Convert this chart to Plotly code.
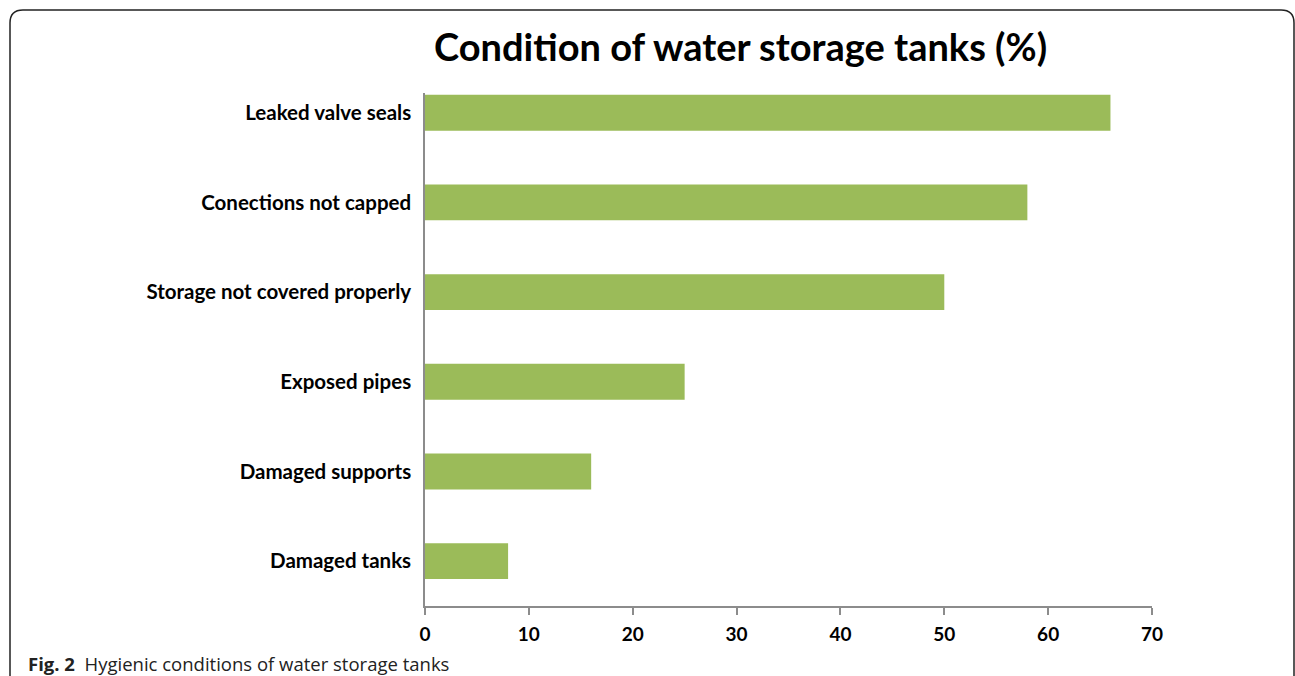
import plotly.graph_objects as go

categories = ["Damaged tanks", "Damaged supports", "Exposed pipes",
              "Storage not covered properly", "Conections not capped", "Leaked valve seals"]
values = [8, 16, 25, 50, 58, 66]
x_ticks = [0, 10, 20, 30, 40, 50, 60, 70]

W, H = 1295, 676
L, R, T, B = 425, 143, 93, 70
PW, PH = W - L - R, H - T - B

def px(x):
    return (x - L) / PW

def py(y):
    return 1 - (y - T) / PH

fig = go.Figure(go.Bar(
    x=values, y=list(range(len(categories))), orientation="h",
    marker=dict(color="#9BBB59", line=dict(width=0)),
    hoverinfo="x+y",
))

fig.update_layout(
    width=W, height=H,
    margin=dict(l=L, r=R, t=T, b=B, pad=0),
    paper_bgcolor="white", plot_bgcolor="white",
    showlegend=False, bargap=0.6,
    font=dict(family="Lato", color="black"),
)
fig.update_xaxes(
    range=[0, 70], tickvals=x_ticks, ticktext=[str(t) for t in x_ticks],
    showgrid=False, zeroline=False, showline=True, linecolor="#8C8C8C", linewidth=1.5,
    ticks="outside", ticklen=7, tickcolor="#8C8C8C", tickwidth=1.5,
    ticklabelstandoff=3,
    tickfont=dict(family="Lato", size=19, color="black", weight="bold"),
)
fig.update_yaxes(
    range=[-0.5, 5.22], tickvals=list(range(len(categories))), ticktext=categories,
    showgrid=False, zeroline=False, showline=True, linecolor="#8C8C8C", linewidth=1.5,
    ticks="", ticklabelstandoff=8,
    tickfont=dict(family="Lato", size=20.5, color="black", weight="bold"),
)

# extend y-axis line below x-axis (tick-length stub)
fig.add_shape(type="line", xref="paper", yref="paper",
              x0=0, x1=0, y0=0, y1=py(613), line=dict(color="#8C8C8C", width=1.5))

# Title
fig.add_annotation(text="<b>Condition of water storage tanks (%)</b>",
                   xref="paper", yref="paper", x=px(740), y=py(46),
                   xanchor="center", yanchor="middle", showarrow=False,
                   font=dict(family="Lato", size=38, color="black"))

# Caption
fig.add_annotation(text="<b>Fig. 2</b>  Hygienic conditions of water storage tanks",
                   xref="paper", yref="paper", x=px(26), y=py(663),
                   xanchor="left", yanchor="middle", showarrow=False,
                   font=dict(family="Open Sans", size=18.5, color="#222222"))

# Frame border with rounded top corners
r = 13
x0, y0, x1 = 10, 10, 1294
path = (f"M {px(x0)} {py(H)} L {px(x0)} {py(y0 + r)} "
        f"Q {px(x0)} {py(y0)} {px(x0 + r)} {py(y0)} "
        f"L {px(x1 - r)} {py(y0)} Q {px(x1)} {py(y0)} {px(x1)} {py(y0 + r)} "
        f"L {px(x1)} {py(H)}")
fig.add_shape(type="path", xref="paper", yref="paper", path=path,
              line=dict(color="#222222", width=1.5))

fig.write_html("out.html")
